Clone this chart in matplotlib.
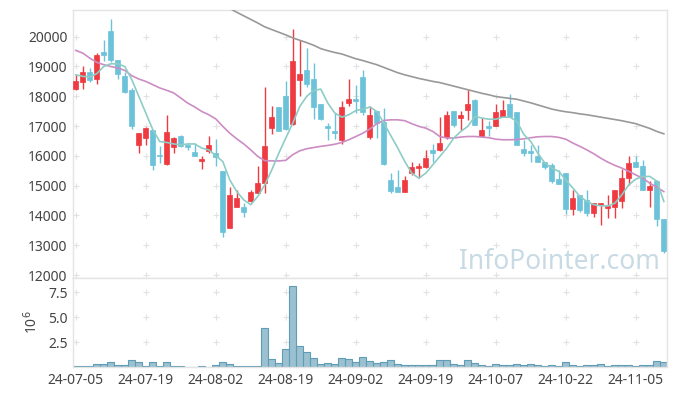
import matplotlib.pyplot as plt

# daily candles, index 0 = 2024-07-05
opens = [18240, 18470, 18830, 18590, 19480, 20180, 19230, 18690, 18200, 16380,
         16600, 16880, 16040, 15720, 16310, 16650, 16360, 16140, 15820, 16150,
         16110, 15500, 13590, 14300, 14280, 14500, 14770, 15080, 16930, 17630,
         18020, 17070, 18560, 18870, 18590, 17750, 17010, 16820, 16540, 17790,
         17910, 18650, 16630, 17510, 17150, 15190, 14950, 14800, 15440, 15590,
         15640, 16200, 16180, 16630, 17510, 17260, 17550, 17860, 16670, 17010,
         16990, 17300, 17750, 17470, 16240, 16170, 16010, 15810, 15700, 15220,
         15440, 14220, 14690, 14520, 14080, 14360, 14240, 14300, 14470, 15250,
         15790, 15670, 14840, 15150, 13870]
highs = [18720, 19000, 18950, 19450, 19900, 20600, 19230, 18830, 18280, 16780,
         16960, 16880, 16340, 17380, 16620, 16700, 16440, 16440, 15980, 16670,
         16560, 15500, 14950, 14860, 14430, 14860, 15670, 18310, 17680, 17650,
         18500, 20260, 19900, 19620, 19120, 17750, 17100, 17440, 17830, 18580,
         18390, 18880, 17680, 17510, 17600, 15440, 15530, 15330, 15790, 15760,
         16180, 16400, 17320, 17490, 17510, 17490, 18210, 17900, 17270, 17160,
         17750, 17880, 18080, 17470, 16540, 16370, 16370, 15810, 15760, 15530,
         15440, 14840, 14700, 14860, 14410, 14420, 14690, 14860, 15550, 16010,
         16010, 15870, 15150, 15190, 13870]
lows = [18200, 18240, 18470, 18410, 19170, 19140, 18590, 18110, 16900, 16090,
        16380, 15530, 15760, 15700, 16090, 16300, 16180, 16000, 15560, 16090,
        15670, 13260, 13590, 14280, 13960, 14460, 14750, 14770, 16730, 16820,
        16870, 17040, 18000, 18310, 17230, 17200, 16540, 16560, 16400, 17680,
        17440, 17380, 16580, 16600, 15700, 14750, 14800, 14800, 15360, 15250,
        15590, 15810, 16150, 16580, 16980, 16880, 17210, 17040, 16650, 16650,
        16990, 17300, 17320, 16370, 15980, 15790, 15790, 15560, 15080, 15060,
        14050, 14020, 14120, 13990, 13940, 13680, 13910, 13910, 14240, 15030,
        15620, 14840, 14280, 13650, 12750]
closes = [18500, 18830, 18530, 19390, 19370, 19230, 18760, 18160, 17010, 16760,
          16950, 15700, 15990, 16810, 16610, 16340, 16300, 16000, 15900, 16370,
          15960, 13460, 14690, 14580, 14100, 14800, 15100, 16340, 17300, 16820,
          16900, 19190, 18760, 18420, 17630, 17230, 16950, 16780, 17640, 17910,
          17850, 17460, 17380, 17100, 15730, 14830, 14800, 15190, 15620, 15670,
          15920, 16110, 16430, 17380, 17040, 17380, 17750, 17040, 16880, 16950,
          17470, 17550, 17320, 16370, 16110, 16090, 15790, 15640, 15170, 15060,
          14220, 14580, 14170, 14080, 14410, 14410, 14320, 14860, 15250, 15760,
          15620, 14840, 14990, 13870, 12820]
volume_m = [0.14, 0.14, 0.14, 0.34, 0.34, 0.54, 0.24, 0.24, 0.74, 0.54,
            0.14, 0.54, 0.14, 0.54, 0.14, 0.14, 0.03, 0.03, 0.14, 0.03,
            0.24, 0.54, 0.34, 0.14, 0.14, 0.14, 0.14, 3.9, 0.85, 0.44,
            1.76, 8.14, 2.06, 1.55, 0.95, 0.34, 0.44, 0.34, 0.95, 0.81,
            0.51, 1.0, 0.64, 0.41, 0.51, 0.74, 0.3, 0.2, 0.2, 0.2,
            0.2, 0.2, 0.72, 0.72, 0.3, 0.2, 0.72, 0.4, 0.2, 0.1,
            0.3, 0.2, 0.2, 0.3, 0.2, 0.3, 0.2, 0.1, 0.2, 0.1,
            0.5, 0.2, 0.1, 0.2, 0.2, 0.3, 0.1, 0.2, 0.2, 0.2,
            0.1, 0.2, 0.2, 0.6, 0.5]
ma5 = [18720, 18670, 18650, 18760, 19000, 19090, 19090, 19000, 18560, 18000,
       17440, 16880, 16480, 16450, 16400, 16370, 16400, 16400, 16260, 16200,
       16010, 15810, 15190, 14800, 14520, 14360, 14640, 15030, 15530, 16090,
       16600, 17100, 17660, 18000, 18200, 18240, 17770, 17440, 17300, 17380,
       17520, 17570, 17640, 17490, 17100, 16680, 16260, 15810, 15420, 15250,
       15420, 15700, 15980, 16260, 16600, 16820, 16990, 17320, 17270, 17230,
       17230, 17300, 17300, 17160, 16720, 16480, 16090, 15760, 15590, 15480,
       15190, 14920, 14640, 14470, 14360, 14320, 14320, 14410, 14690, 15030,
       15220, 15310, 15310, 15150, 14470]
ma20 = [19540, 19450, 19280, 19140, 19060, 19000, 18950, 18870, 18690, 18580,
        18500, 18390, 18280, 18200, 18110, 17940, 17770, 17640, 17490, 17380,
        17240, 16990, 16760, 16570, 16400, 16200, 15980, 15840, 15830, 15830,
        15850, 16040, 16170, 16240, 16280, 16320, 16350, 16390, 16450, 16540,
        16650, 16760, 16900, 17080, 17190, 17210, 17210, 17180, 17080, 16990,
        16930, 16820, 16650, 16600, 16600, 16630, 16650, 16650, 16630, 16610,
        16560, 16540, 16540, 16550, 16570, 16610, 16640, 16650, 16650, 16620,
        16560, 16430, 16320, 16200, 16070, 15920, 15790, 15680, 15590, 15480,
        15360, 15250, 15080, 14950, 14800]
ma_long_start = 22
ma_long = [20950, 20820, 20700, 20580, 20460, 20330, 20240, 20150, 20060, 19960,
           19880, 19800, 19710, 19600, 19530, 19470, 19420, 19340, 19260, 19200,
           19130, 19060, 18970, 18880, 18790, 18720, 18660, 18600, 18550, 18500,
           18460, 18400, 18340, 18280, 18220, 18160, 18100, 18050, 17990, 17960,
           17930, 17900, 17840, 17780, 17710, 17640, 17570, 17520, 17480, 17450,
           17410, 17380, 17340, 17300, 17260, 17220, 17180, 17130, 17080, 17000,
           16920, 16820, 16740]
tick_pos = [0, 10, 20, 30, 40, 50, 60, 70, 80]
tick_labels = ["24-07-05", "24-07-19", "24-08-02", "24-08-19", "24-09-02",
               "24-09-19", "24-10-07", "24-10-22", "24-11-05"]
price_ticks = [12000, 13000, 14000, 15000, 16000, 17000, 18000, 19000, 20000]
vol_ticks = [2.5, 5.0, 7.5]

plt.rcParams['font.family'] = ['Noto Sans', 'DejaVu Sans']

up_color = "#ee3a40"
down_color = "#6cc3d9"
spine_color = "#e4e4e4"
grid_color = "#e2e2e2"
text_color = "#444444"

fig = plt.figure(figsize=(6.77, 3.96), dpi=100)
ax = fig.add_axes([0.1078, 0.298, 0.8774, 0.677])
axv = fig.add_axes([0.1078, 0.073, 0.8774, 0.225], sharex=ax)

x = list(range(len(closes)))

# grid drawn as small crosses at tick intersections
for xp in tick_pos:
    for yp in price_ticks:
        ax.plot(xp, yp, marker='+', ms=4.5, mew=0.8, color=grid_color, zorder=0)
    for yp in vol_ticks:
        axv.plot(xp, yp, marker='+', ms=4.5, mew=0.8, color=grid_color, zorder=0)

ax.text(0.988, 0.035, "InfoPointer.com", transform=ax.transAxes, ha='right',
        va='baseline', fontsize=19, color="#c8dbe5", zorder=0.5)

for i in x:
    o, h, l, c = opens[i], highs[i], lows[i], closes[i]
    col = up_color if c >= o else down_color
    ax.vlines(i, l, h, color=col, lw=1.0, zorder=2)
    bottom = min(o, c)
    height = max(abs(c - o), 40)
    ax.bar(i, height, bottom=bottom, width=0.68, color=col, edgecolor=col,
           lw=0.5, zorder=3)

ax.plot(x, ma20, color="#cc8cc4", lw=1.2, zorder=4)
ax.plot(x, ma5, color="#8dcdc6", lw=1.2, zorder=4)
ax.plot(list(range(ma_long_start, ma_long_start + len(ma_long))), ma_long,
        color="#999999", lw=1.2, zorder=4)

axv.bar(x, volume_m, width=1.0, color="#9bc1d1", edgecolor="#5f9cb6", lw=0.8)

ax.set_xlim(-0.4, 84.45)
ax.set_ylim(11900, 20900)
axv.set_ylim(0, 8.9)

ax.set_yticks(price_ticks)
ax.set_yticklabels([str(p) for p in price_ticks])
axv.set_yticks(vol_ticks)
axv.set_yticklabels(["2.5", "5.0", "7.5"])
axv.set_xticks(tick_pos)
axv.set_xticklabels(tick_labels)
ax.tick_params(axis='x', labelbottom=False)

for a in (ax, axv):
    a.tick_params(length=0, labelsize=10, colors=text_color, pad=4)
    for s in a.spines.values():
        s.set_color(spine_color)
        s.set_linewidth(1.0)

axv.set_ylabel("10$^6$", fontsize=10, color=text_color, labelpad=5)

fig.savefig("out.png", dpi=100, facecolor="white")
